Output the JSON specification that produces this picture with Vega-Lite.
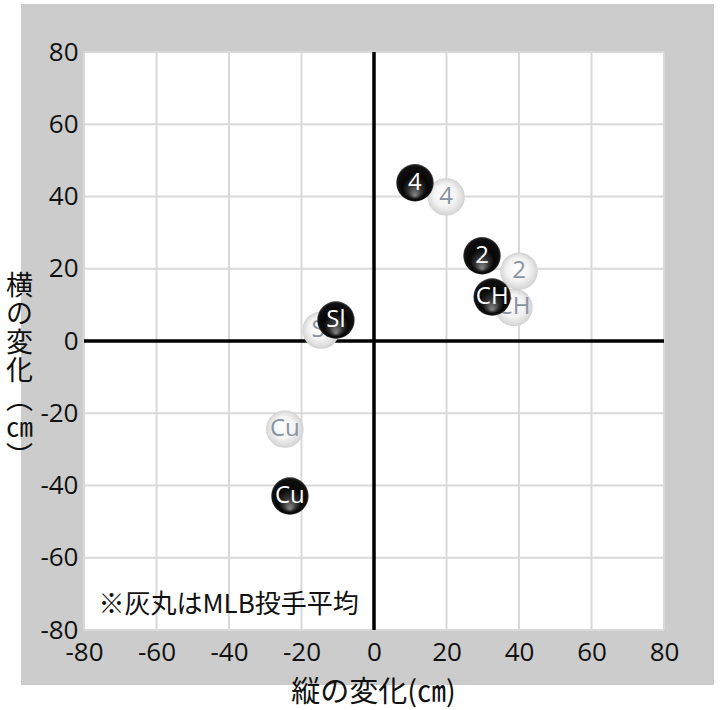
{
  "$schema": "https://vega.github.io/schema/vega-lite/v6.json",
  "width": 580,
  "height": 578,
  "autosize": {"type": "none"},
  "padding": {"left": 84, "top": 52, "right": 56, "bottom": 80},
  "background": "white",
  "config": {
    "view": {"stroke": null, "fill": null},
    "axis": {
      "grid": false,
      "domain": false,
      "ticks": false,
      "labelFont": "Open Sans",
      "labelFontSize": 26,
      "labelColor": "#111111",
      "labelFlush": false,
      "labelOverlap": false,
      "labelExpr": "datum.value + ''",
      "titleFont": "Noto Sans CJK JP",
      "titleFontSize": 28,
      "titleFontWeight": "normal",
      "titleColor": "#111111"
    }
  },
  "datasets": {
    "pitches": [
      {"pitch": "4", "group": "MLB", "x": 19.9, "y": 39.9},
      {"pitch": "2", "group": "MLB", "x": 40.0, "y": 19.3},
      {"pitch": "CH", "group": "MLB", "x": 38.6, "y": 9.3},
      {"pitch": "Sl", "group": "MLB", "x": -14.6, "y": 3.0},
      {"pitch": "Cu", "group": "MLB", "x": -24.6, "y": -24.4},
      {"pitch": "4", "group": "player", "x": 11.3, "y": 43.8},
      {"pitch": "2", "group": "player", "x": 29.8, "y": 23.6},
      {"pitch": "CH", "group": "player", "x": 32.6, "y": 12.2},
      {"pitch": "Sl", "group": "player", "x": -10.5, "y": 5.8},
      {"pitch": "Cu", "group": "player", "x": -23.2, "y": -42.9}
    ],
    "gridx": [{"x": -80}, {"x": -60}, {"x": -40}, {"x": -20}, {"x": 20}, {"x": 40}, {"x": 60}, {"x": 80}],
    "gridy": [{"y": -80}, {"y": -60}, {"y": -40}, {"y": -20}, {"y": 20}, {"y": 40}, {"y": 60}, {"y": 80}],
    "note": [{"text": "※灰丸はMLB投手平均", "x": -76, "y": -73.2}]
  },
  "layer": [
    {
      "data": {"values": [{}]},
      "mark": {"type": "rect", "fill": "#cccccc", "clip": false},
      "encoding": {
        "x": {"datum": -97.4, "type": "quantitative", "scale": {"domain": [-80, 80], "nice": false, "zero": false},
          "axis": {"values": [-80, -60, -40, -20, 0, 20, 40, 60, 80], "zindex": 2, "labelPadding": 9, "title": "縦の変化(㎝)", "titleFontSize": 29, "titleBaseline": "middle", "titleY": 62, "titleX": 289}},
        "x2": {"datum": 93.8},
        "y": {"datum": 93.3, "type": "quantitative", "scale": {"domain": [-80, 80], "nice": false, "zero": false},
          "axis": {"values": [-80, -60, -40, -20, 0, 20, 40, 60, 80], "zindex": 2, "labelPadding": 6,
            "title": ["横", "の", "変", "化", "︵", "㎝", "︶"], "titleFontSize": 27, "titleAngle": 0, "titleAlign": "center", "titleBaseline": "top", "titleX": -65, "titleY": 221, "titleLineHeight": 28.5}},
        "y2": {"datum": -95.2}
      }
    },
    {
      "data": {"values": [{}]},
      "mark": {"type": "rect", "fill": "white"},
      "encoding": {
        "x": {"datum": -80, "type": "quantitative"},
        "x2": {"datum": 80},
        "y": {"datum": -80, "type": "quantitative"},
        "y2": {"datum": 80}
      }
    },
    {
      "data": {"name": "gridx"},
      "mark": {"type": "rule", "color": "#d9d9d9", "strokeWidth": 2},
      "encoding": {"x": {"field": "x", "type": "quantitative"}}
    },
    {
      "data": {"name": "gridy"},
      "mark": {"type": "rule", "color": "#d9d9d9", "strokeWidth": 2},
      "encoding": {"y": {"field": "y", "type": "quantitative"}}
    },
    {
      "data": {"values": [{}]},
      "mark": {"type": "rule", "color": "#000000", "strokeWidth": 3.5},
      "encoding": {"x": {"datum": 0, "type": "quantitative"}}
    },
    {
      "data": {"values": [{}]},
      "mark": {"type": "rule", "color": "#000000", "strokeWidth": 3.5},
      "encoding": {"y": {"datum": 0, "type": "quantitative"}}
    },
    {
      "data": {"name": "pitches"},
      "transform": [{"filter": "datum.group === 'MLB'"}],
      "mark": {
        "type": "point", "shape": "circle", "filled": true, "opacity": 1, "size": 1400, "strokeWidth": 0,
        "fill": {"gradient": "radial", "x1": 0.42, "y1": 0.38, "r1": 0, "x2": 0.5, "y2": 0.5, "r2": 0.5,
          "stops": [{"offset": 0, "color": "#ffffff"}, {"offset": 0.6, "color": "#f3f3f3"}, {"offset": 0.9, "color": "#dcdcdc"}, {"offset": 1, "color": "#cfcfcf"}]}
      },
      "encoding": {
        "x": {"field": "x", "type": "quantitative"},
        "y": {"field": "y", "type": "quantitative"}
      }
    },
    {
      "data": {"name": "pitches"},
      "transform": [{"filter": "datum.group === 'MLB'"}],
      "mark": {"type": "text", "font": "Open Sans", "fontSize": 24, "color": "#8894a0", "align": "center", "baseline": "middle"},
      "encoding": {
        "x": {"field": "x", "type": "quantitative"},
        "y": {"field": "y", "type": "quantitative"},
        "text": {"field": "pitch"}
      }
    },
    {
      "data": {"name": "pitches"},
      "transform": [{"filter": "datum.group === 'player'"}],
      "mark": {
        "type": "point", "shape": "circle", "filled": true, "opacity": 1, "size": 1400, "strokeWidth": 0,
        "fill": {"gradient": "radial", "x1": 0.5, "y1": 0.85, "r1": 0, "x2": 0.5, "y2": 0.5, "r2": 0.5,
          "stops": [{"offset": 0, "color": "#8a8a8a"}, {"offset": 0.35, "color": "#333333"}, {"offset": 0.65, "color": "#060606"}, {"offset": 0.95, "color": "#111111"}, {"offset": 1, "color": "#555555"}]}
      },
      "encoding": {
        "x": {"field": "x", "type": "quantitative"},
        "y": {"field": "y", "type": "quantitative"}
      }
    },
    {
      "data": {"name": "pitches"},
      "transform": [{"filter": "datum.group === 'player'"}],
      "mark": {"type": "text", "font": "Open Sans", "fontSize": 24, "color": "#ffffff", "align": "center", "baseline": "middle"},
      "encoding": {
        "x": {"field": "x", "type": "quantitative"},
        "y": {"field": "y", "type": "quantitative"},
        "text": {"field": "pitch"}
      }
    },
    {
      "data": {"name": "note"},
      "mark": {"type": "text", "font": "Noto Sans CJK JP", "fontSize": 26, "color": "#111111", "align": "left", "baseline": "middle"},
      "encoding": {
        "x": {"field": "x", "type": "quantitative"},
        "y": {"field": "y", "type": "quantitative"},
        "text": {"field": "text"}
      }
    }
  ]
}
